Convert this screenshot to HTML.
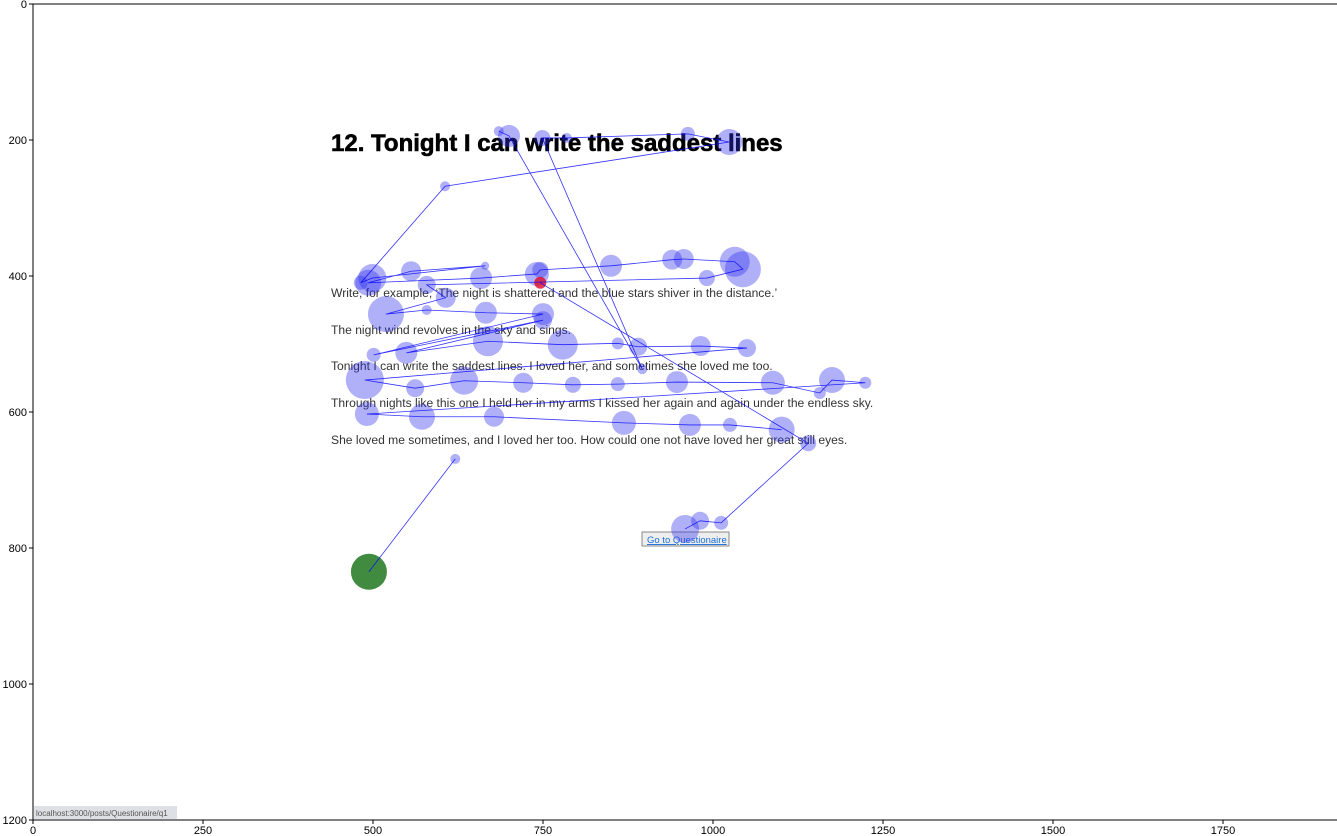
<!DOCTYPE html>
<html><head><meta charset="utf-8"><style>
body{margin:0;background:#fff;width:1337px;height:836px;overflow:hidden;font-family:"Liberation Sans",sans-serif}
svg{position:absolute;left:0;top:0}
</style></head><body>
<svg id="chart" width="1337" height="836">
<g id="bg">
<text x="331" y="151" font-size="24" font-weight="bold" fill="#000" stroke="#000" stroke-width="0.6" font-family="Liberation Sans, DejaVu Sans, sans-serif">12. Tonight I can write the saddest lines</text>
<g font-size="12.1" fill="#333">
<text x="331" y="297">Write, for example, ‘The night is shattered and the blue stars shiver in the distance.’</text>
<text x="331" y="334">The night wind revolves in the sky and sings.</text>
<text x="331" y="370">Tonight I can write the saddest lines. I loved her, and sometimes she loved me too.</text>
<text x="331" y="407">Through nights like this one I held her in my arms I kissed her again and again under the endless sky.</text>
<text x="331" y="444">She loved me sometimes, and I loved her too. How could one not have loved her great still eyes.</text>
</g>
<rect x="642" y="532" width="87" height="14" fill="#eee" stroke="#888"/>
<text x="647" y="543" font-size="9.5" fill="#1a6fd6" text-decoration="underline">Go to Questionaire</text>
<rect x="34" y="806" width="143" height="13" fill="#dde0e4"/>
<text x="36" y="816" font-size="8" fill="#555">localhost:3000/posts/Questionaire/q1</text>
</g>
<g id="marks"></g>
<g id="axes"></g>
</svg>
<script>
const fixX=[494,621,685,700,896,749,785,963,1024,606,482,499,665,556,493,659,741,746,850,940,957,1032,1044,991,579,607,519,579,666,750,501,750,549,669,779,860,890,982,1050,488,562,634,721,794,860,947,1088,1157,1175,1224,491,572,678,869,966,1025,1101,746,1140,1012,981,959];
const fixY=[835,669,187,194,537,197,197,191,203,268,410,403,385,393,410,403,397,391,385,376,375,379,390,403,413,432,456,450,454,456,516,465,513,496,501,499,504,503,506,553,565,554,557,560,559,556,557,572,553,557,603,607,607,616,619,619,626,410,646,763,760,772];
const fixR=[18,5,5,11,5,8,5,7,13,5,7,14,4,10,13,11,12,8,11,10,10,15,18,8,9,10,18,5,11,11,7,9,11,15,15,6,9,10,9,19,9,14,10,8,7,11,12,6,13,6,12,13,10,12,11,7,13,6,8,7,9,14];
const newStroke=[2,57];
const startIdx=0;
const highlightIdx=57;
const xTicks=[0,250,500,750,1000,1250,1500,1750];
const yTicks=[0,200,400,600,800,1000,1200];
const NS="http://www.w3.org/2000/svg";
const X0=33,Y0=4,S=0.68;
function sx(v){return X0+v*S;}
function sy(v){return Y0+v*S;}
function mk(t,a,p){const e=document.createElementNS(NS,t);for(const k in a)e.setAttribute(k,a[k]);p.appendChild(e);return e;}
const marks=document.getElementById('marks');
let d="";
for(let i=0;i<fixX.length;i++){d+=((i===0||newStroke.includes(i))?"M":"L")+sx(fixX[i])+" "+sy(fixY[i]);}
for(let i=0;i<fixX.length;i++){
 const first=i===startIdx, hl=i===highlightIdx;
 const c=mk('circle',{cx:sx(fixX[i]),cy:sy(fixY[i]),r:fixR[i],fill:first?'#006400':(hl?'#dc0a28':'#3030f0'),'fill-opacity':first?0.75:(hl?0.8:0.38)},marks);
 
 
}
const path=mk('path',{d:d,fill:'none',stroke:'#0000ff','stroke-width':0.8,'stroke-opacity':0.8},marks);


const ax=document.getElementById('axes');
const fr=mk('rect',{x:X0,y:Y0,width:1400,height:816,fill:'none',stroke:'#000','stroke-width':1},ax);


xTicks.forEach(v=>{
 const l=mk('line',{x1:sx(v),x2:sx(v),y1:820,y2:824,stroke:'#000'},ax);
 
 
 const t=mk('text',{x:sx(v),y:834,'font-size':11,'text-anchor':'middle',fill:'#000'},ax);
 t.textContent=v;
 
 
});
yTicks.forEach(v=>{
 const l=mk('line',{x1:29,x2:33,y1:sy(v),y2:sy(v),stroke:'#000'},ax);
 
 
 const t=mk('text',{x:27,y:sy(v)+4,'font-size':11,'text-anchor':'end',fill:'#000'},ax);
 t.textContent=v;
 
 
});
</script>
</body></html>
